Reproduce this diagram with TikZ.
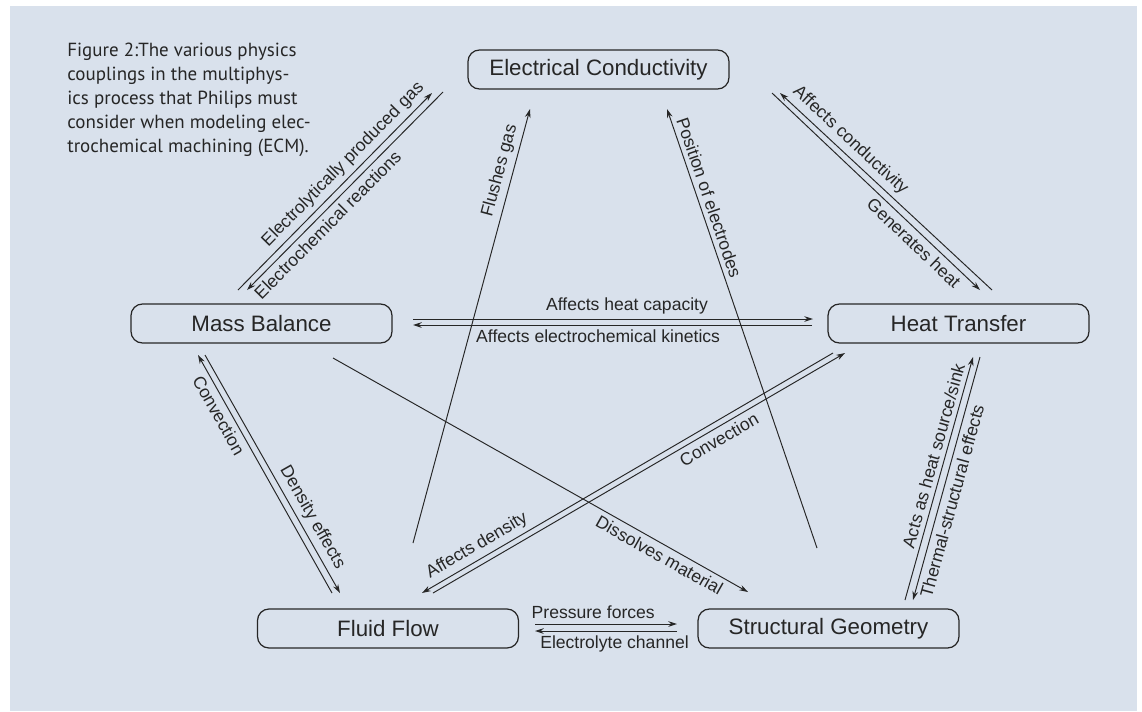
\documentclass[tikz,border=0pt]{standalone}
\usepackage{fontspec}
\setmainfont{Liberation Sans}
\newfontfamily\captionfont{PT Sans}
\usetikzlibrary{arrows.meta,calc}
\definecolor{panelbg}{RGB}{217,225,236}
\definecolor{inkgray}{RGB}{38,38,38}

\begin{document}
\begin{tikzpicture}[
    x=0.02cm, y=-0.02cm,
    coupling/.style={rectangle, draw=inkgray, line width=0.7pt, rounded corners=6.5pt, minimum width=5.22cm, minimum height=0.78cm, inner sep=0pt, font=\fontsize{12.7}{15}\selectfont, text=inkgray},
    link/.style={-{Stealth[length=5pt,width=3.2pt]}, line width=0.55pt, draw=inkgray},
    lbl/.style={font=\fontsize{10}{12}\selectfont, sloped, inner sep=2.5pt, text=inkgray},
]
\useasboundingbox (0,0) rectangle (1142,711);
\fill[panelbg] (10,6) rectangle (1137,711);

% Caption
\node[anchor=north west, align=left, inner sep=0pt, text=inkgray, font=\captionfont\fontsize{10.8}{13.6}\selectfont] (caption) at (67,43)
  {Figure 2:The various physics\\couplings in the multiphys-\\ics process that Philips must\\consider when modeling elec-\\trochemical machining (ECM).};

% Physics blocks
\node[coupling] (ec) at (598.5,69.5) {Electrical Conductivity};
\node[coupling] (mb) at (261.5,323.5) {Mass Balance};
\node[coupling] (ht) at (958.5,323.5) {Heat Transfer};
\node[coupling] (ff) at (388,628.5) {Fluid Flow};
\node[coupling] (sg) at (828.5,628.5) {Structural Geometry};

% Mass balance <-> electrical conductivity
\draw[link] ($(mb)+(-23.5,-33.5)$) -- node[lbl, pos=0.59, above] {Electrolytically produced gas} ($(ec)+(-166.5,23.5)$);
\draw[link] ($(ec)+(-155.5,22.5)$) -- node[lbl, pos=0.63, below] {Electrochemical reactions} ($(mb)+(-14.5,-33.5)$);

% Electrical conductivity <-> heat transfer
\draw[link] ($(ec)+(173.5,23.5)$) -- node[lbl, pos=0.72, below] {Generates heat} ($(ht)+(21.5,-33.5)$);
\draw[link] ($(ht)+(33.5,-33.5)$) -- node[lbl, pos=0.71, above] {Affects conductivity} ($(ec)+(181.5,23.5)$);

% Into electrical conductivity from below
\draw[link] ($(ff)+(25,-85.5)$) -- node[lbl, pos=0.85, above] {Flushes gas} ($(ec)+(-68.5,39.5)$);
\draw[link] ($(sg)+(-11.5,-80.5)$) -- node[lbl, pos=0.79, above] {Position of electrodes} ($(ec)+(68.5,39.5)$);

% Mass balance <-> heat transfer
\draw[link] ($(mb)+(151.5,-4.5)$) -- node[lbl, pos=0.535, above] {Affects heat capacity} ($(ht)+(-145.5,-4.5)$);
\draw[link] ($(ht)+(-146.5,1.5)$) -- node[lbl, pos=0.536, below] {Affects electrochemical kinetics} ($(mb)+(151.5,1.5)$);

% Mass balance <-> fluid flow
\draw[link] ($(ff)+(-56,-35.5)$) -- node[lbl, pos=0.77, below] {Convection} ($(mb)+(-63.5,31.5)$);
\draw[link] ($(mb)+(-56.5,31.5)$) -- node[lbl, pos=0.71, above] {Density effects} ($(ff)+(-48,-35.5)$);

% Mass balance -> structural geometry
\draw[link] ($(mb)+(71.5,34.5)$) -- node[lbl, pos=0.80, below] {Dissolves material} ($(sg)+(-80.5,-36.5)$);

% Fluid flow <-> heat transfer
\draw[link] ($(ff)+(45,-35.5)$) -- node[lbl, pos=0.68, below] {Convection} ($(ht)+(-113.5,29.5)$);
\draw[link] ($(ht)+(-125.5,29.5)$) -- node[lbl, pos=0.85, above] {Affects density} ($(ff)+(34,-35.5)$);

% Structural geometry <-> heat transfer
\draw[link] ($(sg)+(76.5,-28.5)$) -- node[lbl, pos=0.58, above] {Acts as heat source/sink} ($(ht)+(14.5,33.5)$);
\draw[link] ($(ht)+(21.5,33.5)$) -- node[lbl, pos=0.58, below] {Thermal-structural effects} ($(sg)+(84.5,-28.5)$);

% Fluid flow <-> structural geometry
\draw[link] ($(ff)+(147,-4.5)$) -- node[lbl, pos=0.41, above] {Pressure forces} ($(sg)+(-151.5,-4.5)$);
\draw[link] ($(sg)+(-151.5,2.5)$) -- node[lbl, pos=0.44, below] {Electrolyte channel} ($(ff)+(147,2.5)$);

\end{tikzpicture}
\end{document}
